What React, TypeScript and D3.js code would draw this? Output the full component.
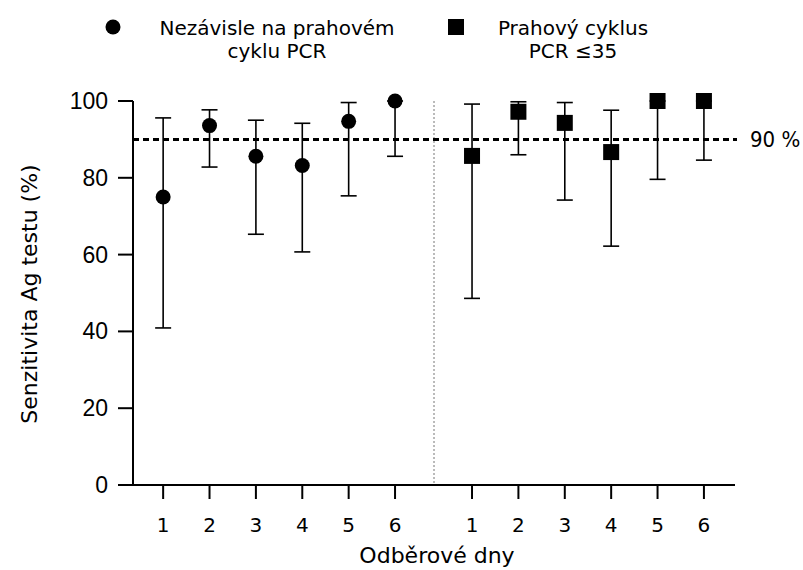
import React from "react";
import * as d3 from "d3";

const days = ["1", "2", "3", "4", "5", "6"];
const slotsA = [1, 2, 3, 4, 5, 6];
const slotsB = [7.66, 8.66, 9.66, 10.66, 11.66, 12.66];
const independentValue = [75.0, 93.6, 85.6, 83.2, 94.7, 100];
const independentLow = [40.9, 82.8, 65.3, 60.7, 75.3, 85.6];
const independentHigh = [95.6, 97.7, 95.0, 94.2, 99.6, 100];
const thresholdValue = [85.7, 97.2, 94.3, 86.7, 100, 100];
const thresholdLow = [48.6, 86.0, 74.2, 62.2, 79.6, 84.6];
const thresholdHigh = [99.2, 99.8, 99.6, 97.6, 100, 100];
const yTicks = [0, 20, 40, 60, 80, 100];
const referenceLine = 90;
const separatorSlot = 6.84;

const SANS = "'DejaVu Sans', sans-serif";
const COND = "'DejaVu Sans Condensed', 'DejaVu Sans', sans-serif";
const ARIAL = "'Liberation Sans', Arial, sans-serif";

export default function App() {
  const x = d3.scaleLinear().domain([0.35, 13.33]).range([133, 735]);
  const y = d3.scaleLinear().domain([0, 100]).range([485, 101]);

  const seriesA = slotsA.map((s, i) => ({ s, v: independentValue[i], lo: independentLow[i], hi: independentHigh[i] }));
  const seriesB = slotsB.map((s, i) => ({ s, v: thresholdValue[i], lo: thresholdLow[i], hi: thresholdHigh[i] }));
  const cap = 8;

  const errBar = (d: any, key: string) => (
    <g key={key} stroke="#000" strokeWidth={1.6}>
      <line x1={x(d.s)} x2={x(d.s)} y1={y(d.lo)} y2={y(d.hi)} />
      <line x1={x(d.s) - cap} x2={x(d.s) + cap} y1={y(d.lo)} y2={y(d.lo)} />
      <line x1={x(d.s) - cap} x2={x(d.s) + cap} y1={y(d.hi)} y2={y(d.hi)} />
    </g>
  );

  return (
    <svg width={803} height={570} style={{ position: "absolute", left: 0, top: 0, background: "#fff" }} fontFamily={SANS}>
      <rect width={803} height={570} fill="#fff" />
      {/* legend */}
      <circle cx={113} cy={27} r={7.5} fill="#000" />
      <text x={277} y={35} fontSize={20} textAnchor="middle">Nezávisle na prahovém</text>
      <text x={277} y={58} fontSize={20} textAnchor="middle">cyklu PCR</text>
      <rect x={448} y={19} width={16} height={16} fill="#000" />
      <text x={573} y={35} fontSize={20} textAnchor="middle">Prahový cyklus</text>
      <text x={573} y={58} fontSize={20} textAnchor="middle">PCR ≤35</text>

      {/* separator */}
      <line x1={x(separatorSlot)} x2={x(separatorSlot)} y1={y(100)} y2={y(0)} stroke="#777" strokeWidth={1} strokeDasharray="2,2" />

      {/* axes */}
      <line x1={133} x2={133} y1={y(100)} y2={y(0)} stroke="#000" strokeWidth={2} />
      <line x1={133} x2={x(13.33)} y1={y(0)} y2={y(0)} stroke="#000" strokeWidth={2} />
      {yTicks.map((t) => (
        <g key={"yt" + t}>
          <line x1={118} x2={133} y1={y(t)} y2={y(t)} stroke="#000" strokeWidth={2} />
          <text x={108} y={y(t) + 8} fontSize={23} textAnchor="end" fontFamily={ARIAL}>{t}</text>
        </g>
      ))}
      {[...slotsA, ...slotsB].map((s, i) => (
        <g key={"xt" + i}>
          <line x1={x(s)} x2={x(s)} y1={y(0)} y2={y(0) + 14} stroke="#000" strokeWidth={2} />
          <text x={x(s)} y={532} fontSize={20} textAnchor="middle">{days[i % 6]}</text>
        </g>
      ))}
      <text x={437} y={563} fontSize={22} textAnchor="middle">Odběrové dny</text>
      <text transform={`translate(37,294) rotate(-90)`} fontSize={22} textAnchor="middle">Senzitivita Ag testu (%)</text>

      {/* reference line */}
      <line x1={133} x2={737} y1={y(referenceLine)} y2={y(referenceLine)} stroke="#000" strokeWidth={3} strokeDasharray="6,4" />
      <text x={750} y={y(referenceLine) + 8} fontSize={22} fontFamily={COND}>90 %</text>

      {seriesA.map((d, i) => errBar(d, "ea" + i))}
      {seriesB.map((d, i) => errBar(d, "eb" + i))}
      {seriesA.map((d, i) => (
        <circle key={"ca" + i} cx={x(d.s)} cy={y(d.v)} r={7.5} fill="#000" />
      ))}
      {seriesB.map((d, i) => (
        <rect key={"rb" + i} x={x(d.s) - 8} y={y(d.v) - 8} width={16} height={16} fill="#000" />
      ))}
    </svg>
  );
}
